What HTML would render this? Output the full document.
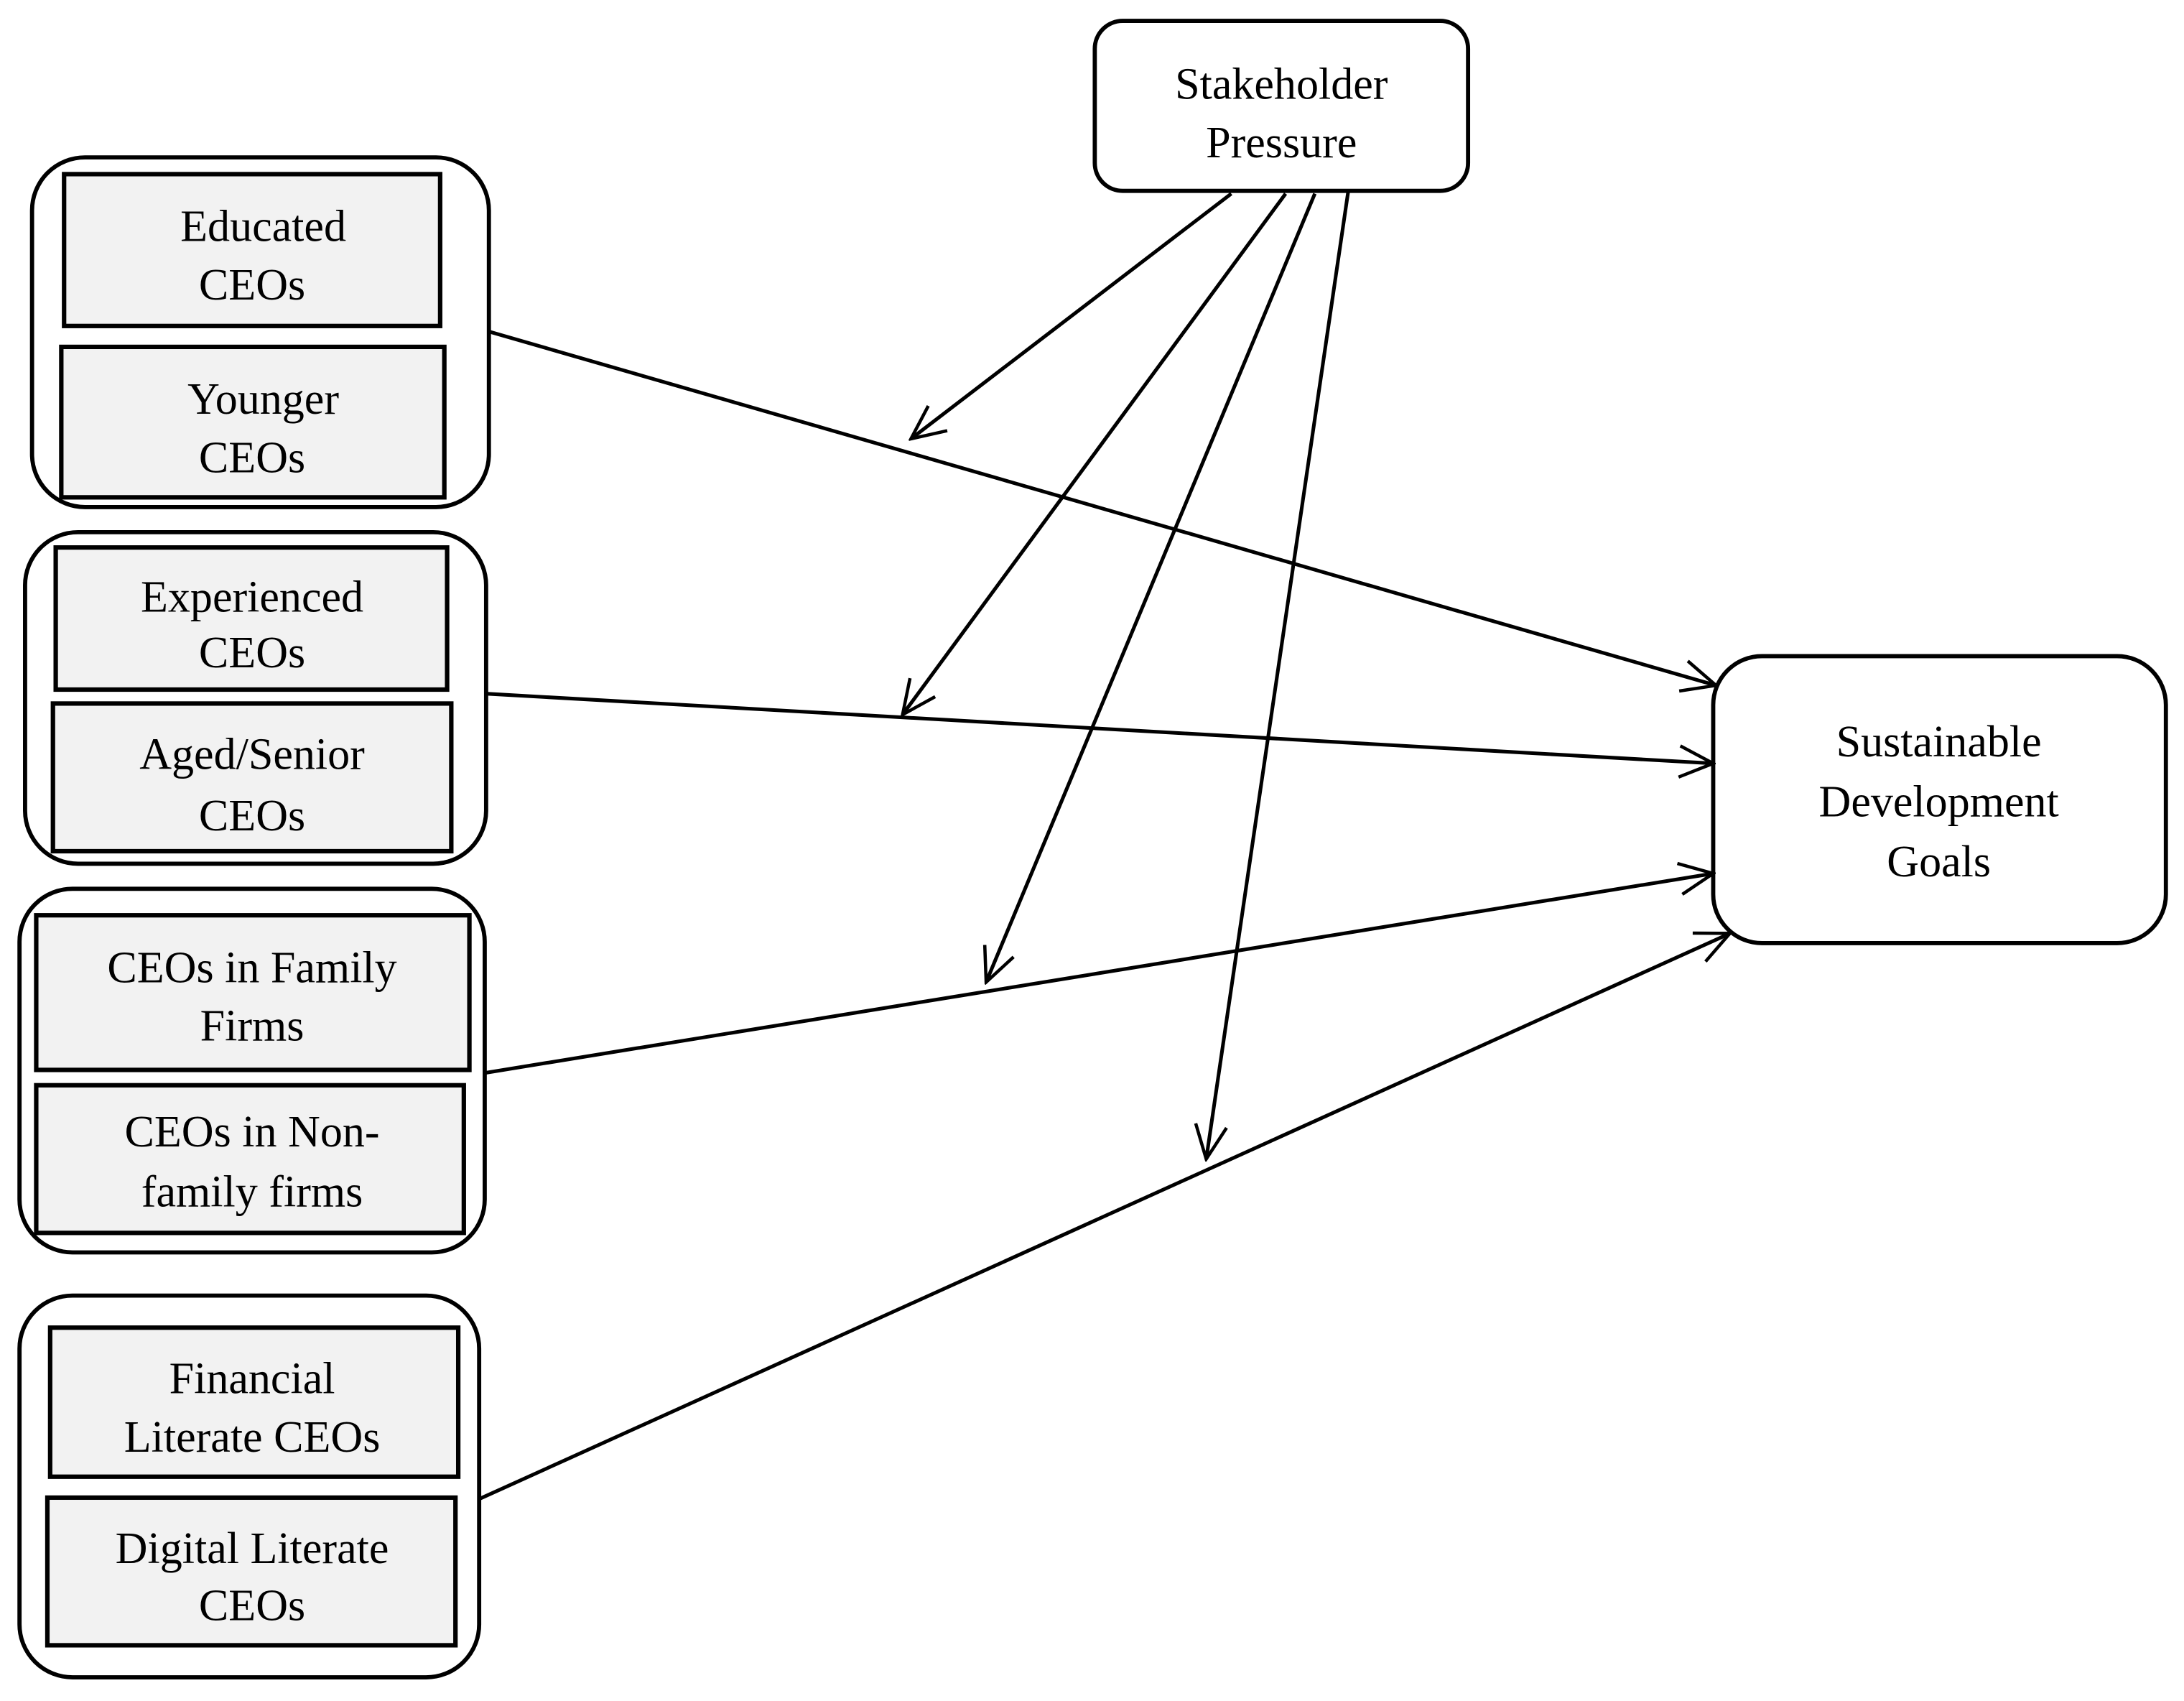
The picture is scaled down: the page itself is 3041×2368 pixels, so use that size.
<!DOCTYPE html>
<html><head><meta charset="utf-8"><style>
html,body{margin:0;padding:0;background:#fff;}
svg{display:block;}
text{font-family:"Liberation Serif",serif;font-size:32px;fill:#000;text-anchor:middle;}
</style></head><body>
<svg width="3041" height="2368" viewBox="0 0 1568 1221" xmlns="http://www.w3.org/2000/svg">
<defs>
<marker id="a" viewBox="0 0 30 30" refX="28" refY="15" markerWidth="28" markerHeight="28" markerUnits="userSpaceOnUse" orient="auto">
<path d="M2 3 L28 15 L2 27" fill="none" stroke="#000" stroke-width="2.5"/>
</marker>
</defs>
<g fill="none" stroke="#000" stroke-width="3">
<rect x="786" y="15" width="268" height="122" rx="20"/>
<rect x="1230" y="471" width="325" height="206" rx="35"/>
<rect x="23" y="113" width="328" height="251" rx="38"/>
<rect x="18" y="382" width="331" height="238" rx="38"/>
<rect x="14" y="638" width="334" height="261" rx="38"/>
<rect x="14" y="930" width="330" height="274" rx="38"/>
</g>
<g fill="#f2f2f2" stroke="#000" stroke-width="3.2">
<rect x="46" y="125" width="270" height="109"/>
<rect x="44" y="249" width="275" height="108"/>
<rect x="40" y="393" width="281" height="102"/>
<rect x="38" y="505" width="286" height="106"/>
<rect x="26" y="657" width="311" height="111"/>
<rect x="26" y="779" width="307" height="106"/>
<rect x="36" y="953" width="293" height="107"/>
<rect x="34" y="1075" width="293" height="106"/>
</g>
<g stroke="#000" stroke-width="2.6" fill="none" marker-end="url(#a)">
<line x1="351" y1="238" x2="1232" y2="492"/>
<line x1="350" y1="498" x2="1230" y2="548"/>
<line x1="349" y1="770" x2="1230" y2="627"/>
<line x1="344" y1="1076" x2="1242" y2="670"/>
<line x1="884" y1="139" x2="654" y2="315"/>
<line x1="923" y1="139" x2="648" y2="513"/>
<line x1="944" y1="139" x2="708" y2="705"/>
<line x1="968" y1="137" x2="866" y2="832"/>
</g>
<text x="920" y="71">Stakeholder</text>
<text x="920" y="113">Pressure</text>
<text x="1392" y="543">Sustainable</text>
<text x="1392" y="586">Development</text>
<text x="1392" y="629">Goals</text>
<text x="189" y="173">Educated</text>
<text x="181" y="215">CEOs</text>
<text x="189" y="297">Younger</text>
<text x="181" y="339">CEOs</text>
<text x="181" y="439">Experienced</text>
<text x="181" y="479">CEOs</text>
<text x="181" y="552">Aged/Senior</text>
<text x="181" y="596">CEOs</text>
<text x="181" y="705">CEOs in Family</text>
<text x="181" y="747">Firms</text>
<text x="181" y="823">CEOs in Non-</text>
<text x="181" y="866">family  firms</text>
<text x="181" y="1000">Financial</text>
<text x="181" y="1042">Literate CEOs</text>
<text x="181" y="1122">Digital Literate</text>
<text x="181" y="1163">CEOs</text>
</svg>
</body></html>
